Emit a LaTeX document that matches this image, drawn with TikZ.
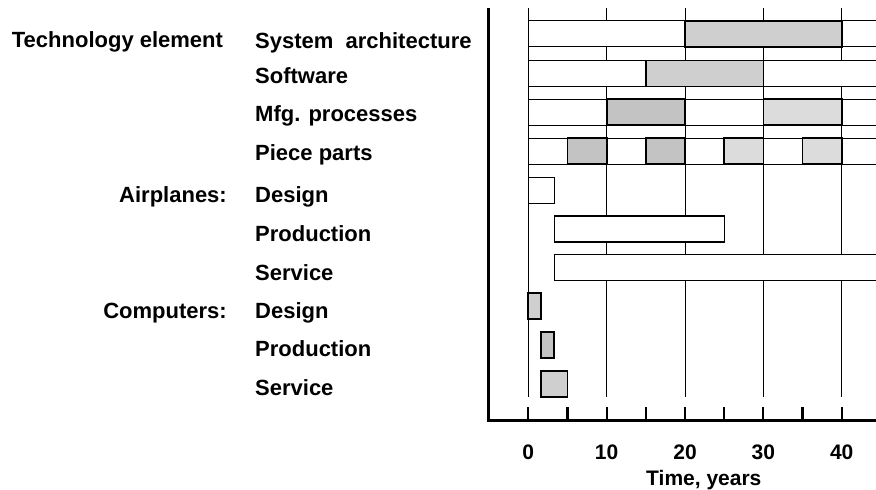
\documentclass[tikz,border=0pt]{standalone}
\usepackage{fontspec}
\setmainfont{Liberation Sans}
\definecolor{shadeD}{HTML}{C3C3C3}
\definecolor{shadeM}{HTML}{CFCFCF}
\definecolor{shadeL}{HTML}{DCDCDC}
\tikzset{
  gridline/.style={line width=0.9pt},
  rowline/.style={line width=1.1pt},
  barbox/.style={draw, line width=1.1pt, fill=white},
  shadebar/.style={draw, line width=1.7pt, fill=#1},
  axisline/.style={line width=2.6pt, line join=miter},
  tickmark/.style={line width=2.2pt},
  lab/.style={font=\fontsize{22}{24}\selectfont\bfseries, inner sep=0pt},
  axlab/.style={font=\fontsize{21}{23}\selectfont\bfseries, inner sep=0pt},
}
% one technology row: open white band running off the right edge
\newcommand\techrow[1]{%
  \fill[white] (0,#1) rectangle (46,#1+26);
  \draw[rowline] (46,#1) -- (0,#1) -- (0,#1+26) -- (46,#1+26);
}
\begin{document}
\begin{tikzpicture}[x=1pt,y=-1pt]
\useasboundingbox (0,0) rectangle (876,490);
\clip (0,0) rectangle (876,490);

% row labels
\node[lab, anchor=base west] (tech) at (11.7,47.7) {Technology element};
\node[lab, anchor=base east] (air) at (227,202.3) {Airplanes:};
\node[lab, anchor=base east] (comp) at (227,318.3) {Computers:};
\node[lab, anchor=base west] (l1) at (255,48.3) {System\ \ architecture};
\node[lab, anchor=base west] (l2) at (255,83.3) {Software};
\node[lab, anchor=base west] (l3) at (255,121.7) {Mfg. processes};
\node[lab, anchor=base west] (l4) at (255,160) {Piece parts};
\node[lab, anchor=base west] (l5) at (255,202.3) {Design};
\node[lab, anchor=base west] (l6) at (255,241) {Production};
\node[lab, anchor=base west] (l7) at (255,280) {Service};
\node[lab, anchor=base west] (l8) at (255,318.3) {Design};
\node[lab, anchor=base west] (l9) at (255,356.7) {Production};
\node[lab, anchor=base west] (l10) at (255,395.7) {Service};

% time scale: x in years
\begin{scope}[shift={(528.3,0)}, x=7.835pt]
  % vertical grid
  \foreach \t in {0,10,20,30,40} \draw[gridline] (\t,8) -- (\t,396.7);

  % technology elements
  \techrow{20.7}
  \techrow{60.5}
  \techrow{99.3}
  \techrow{138.3}
  % system architecture
  \draw[shadebar=shadeM] (20,20.7) rectangle (40,46.7);
  % software
  \draw[shadebar=shadeM] (15,60.5) rectangle (30,86.5);
  % manufacturing processes
  \draw[shadebar=shadeD] (10,99.3) rectangle (20,125.3);
  \draw[shadebar=shadeL] (30,99.3) rectangle (40,125.3);
  % piece parts
  \draw[shadebar=shadeD] (5,138.3) rectangle (10,164.3);
  \draw[shadebar=shadeD] (15,138.3) rectangle (20,164.3);
  \draw[shadebar=shadeL] (25,138.3) rectangle (30,164.3);
  \draw[shadebar=shadeL] (35,138.3) rectangle (40,164.3);

  % airplanes
  \draw[barbox] (0,177.3) rectangle (3.3,203.3);
  \draw[barbox] (3.3,216) rectangle (25,242);
  \fill[white] (3.3,254.3) rectangle (46,280.3);
  \draw[rowline] (46,254.3) -- (3.3,254.3) -- (3.3,280.3) -- (46,280.3);

  % computers
  \draw[shadebar=shadeM] (0,293.3) rectangle (1.65,319.3);
  \draw[shadebar=shadeD] (1.65,332.3) rectangle (3.3,358.3);
  \draw[shadebar=shadeM] (1.65,371) rectangle (5,396.7);

  % ticks and scale
  \foreach \t in {0,5,...,40} \draw[tickmark] (\t,407) -- (\t,420);
  \foreach \t in {0,10,20,30,40}
    \node[axlab, anchor=base] (tl\t) at (\t,459) {\t};
  \node[axlab, anchor=base] (xtitle) at (22.4,485) {Time, years};
\end{scope}

% axes
\draw[axisline] (488.3,8) -- (488.3,420.3) -- (880,420.3);
\end{tikzpicture}
\end{document}
